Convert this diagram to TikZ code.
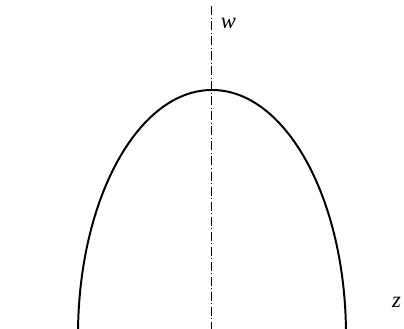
\documentclass[tikz,border=0pt]{standalone}
\usepackage{fontspec}
\setmainfont{Liberation Serif}
\usepackage{tikz}
\usetikzlibrary{positioning}
\tikzset{
  axisline/.style={line width=0.6pt, dash pattern=on 6.4pt off 1.8pt on 0.7pt off 1.8pt},
  profile/.style={line width=1.4pt, black},
  lbl/.style={font=\fontsize{16}{18}\selectfont\itshape, inner sep=0pt},
}

\begin{document}
\begin{tikzpicture}[x=0.025cm,y=0.025cm]
    \useasboundingbox (0,0) rectangle (404,329);
    \coordinate (axtop) at (211.5,323);
    \coordinate (axbot) at (211.5,0);
    \draw[axisline] (axtop) -- (axbot);
    % half ellipse, cut at the lower edge
    \draw[profile] ({212+134*cos(1.4)},0)
      arc[start angle=1.4, end angle=178.6, x radius=134, y radius=245];
    \node[lbl] (wlabel) at (228.5,306) {w};
    \node[lbl] (zlabel) at (396.5,27) {z};
  \end{tikzpicture}
\end{document}
